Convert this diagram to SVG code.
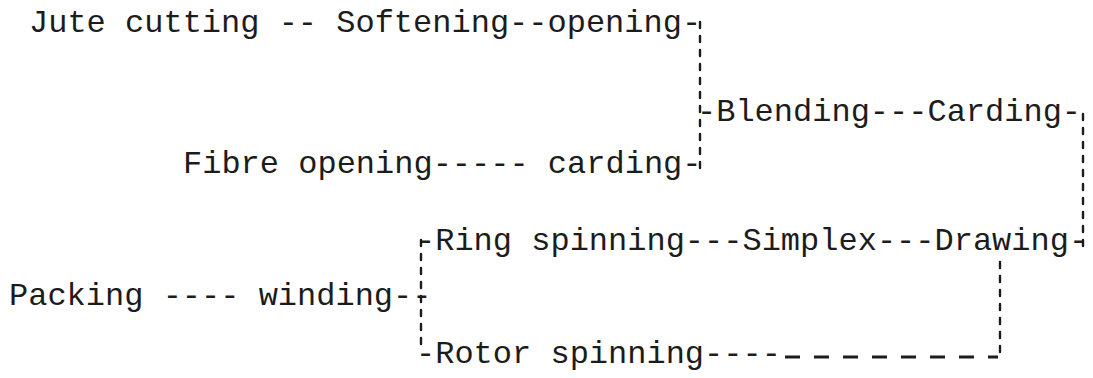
<svg xmlns="http://www.w3.org/2000/svg" width="1093" height="378" viewBox="0 0 1093 378">
<style>
.t{font-family:"Liberation Mono","DejaVu Sans Mono",monospace;font-size:32px;fill:#1c1c1c}
.v{fill:none;stroke:#1c1c1c;stroke-width:2.4;stroke-dasharray:6 8;stroke-linecap:round}
.h{fill:none;stroke:#1c1c1c;stroke-width:3;stroke-dasharray:15 14}
</style>
<rect width="1093" height="378" fill="#ffffff"/>
<g id="connectors">
<path class="v" d="M700 22 V170"/>
<path class="v" d="M1083 114 V246"/>
<path class="v" d="M421 240 V352"/>
<path class="v" d="M1000 262 V356"/>
<path class="h" d="M785 357 H998"/>
</g>
<g id="n1"><text class="t" x="29" y="32">Jute cutting -- Softening--opening-</text></g>
<g id="n2"><text class="t" x="697" y="121">-Blending---Carding-</text></g>
<g id="n3"><text class="t" x="183" y="173">Fibre opening----- carding-</text></g>
<g id="n4"><text class="t" x="416" y="250">-Ring spinning---Simplex---Drawing-</text></g>
<g id="n5"><text class="t" x="9" y="305">Packing ---- winding--</text></g>
<g id="n6"><text class="t" x="416" y="363">-Rotor spinning----</text></g>
</svg>
